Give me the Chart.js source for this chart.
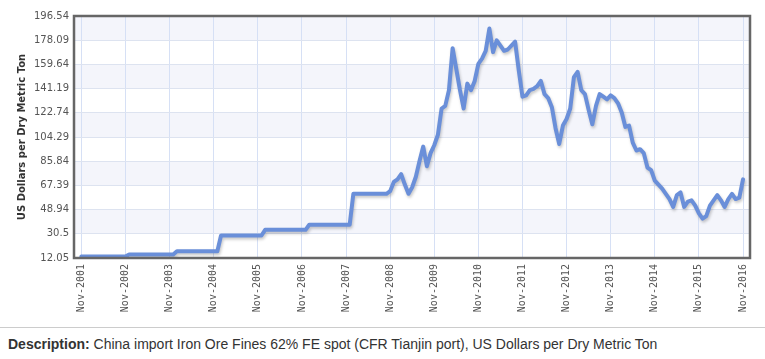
<!DOCTYPE html>
<html>
<head>
<meta charset="utf-8">
<script src="https://cdn.jsdelivr.net/npm/chart.js@4"></script>
<style>
    body { margin: 0; background: #fff; }
    #wrap { position: relative; width: 765px; height: 320px; }
    #desc {
        position: absolute; top: 327px; left: 0; width: 757px;
        border-top: 1px solid #ccc; padding: 8px 0 0 8px;
        font: 14px "Liberation Sans", Arial, sans-serif; color: #333;
    }
</style>
</head>
<body>
<div id="wrap"><canvas id="oreChart" width="765" height="320"></canvas></div>
<div id="desc"><b>Description:</b> China import Iron Ore Fines 62% FE spot (CFR Tianjin port), US Dollars per Dry Metric Ton</div>
<script>
// Tick labels, one per November (month index 0, 12, 24, ...)
const xTickLabels = [
    "Nov-2001", "Nov-2002", "Nov-2003", "Nov-2004", "Nov-2005", "Nov-2006",
    "Nov-2007", "Nov-2008", "Nov-2009", "Nov-2010", "Nov-2011", "Nov-2012",
    "Nov-2013", "Nov-2014", "Nov-2015", "Nov-2016",
];
const yTicks = [12.05, 30.5, 48.94, 67.39, 85.84, 104.29, 122.74, 141.19, 159.64, 178.09, 196.54];

// Monthly price, Nov-2001 .. Nov-2016 (US$ per dry metric ton)
const prices = [
    13.2, 13.2, 13.2, 13.2, 13.2, 13.2, 13.2, 13.2, 13.2, 13.2, 13.2, 13.2, 13.2,
    14.7, 14.7, 14.7, 14.7, 14.7, 14.7, 14.7, 14.7, 14.7, 14.7, 14.7, 14.7, 14.7,
    17.2, 17.2, 17.2, 17.2, 17.2, 17.2, 17.2, 17.2, 17.2, 17.2, 17.2, 17.2,
    29.2, 29.2, 29.2, 29.2, 29.2, 29.2, 29.2, 29.2, 29.2, 29.2, 29.2, 29.2,
    33.5, 33.5, 33.5, 33.5, 33.5, 33.5, 33.5, 33.5, 33.5, 33.5, 33.5, 33.5,
    37.4, 37.4, 37.4, 37.4, 37.4, 37.4, 37.4, 37.4, 37.4, 37.4, 37.4, 37.4,
    61, 61, 61, 61, 61, 61, 61, 61, 61, 61,
    63, 70, 72, 76, 68, 61,
    66, 74, 86, 97, 82, 92, 98, 106, 126, 128,
    140, 172, 156, 140, 126, 145, 140, 147, 160, 164,
    170, 187, 169, 178, 174, 170, 171, 174, 177, 155,
    135, 136, 140, 141, 143, 147, 137, 134, 127, 111,
    99, 113, 118, 126, 150, 154, 140, 137, 125, 114,
    128, 137, 135, 133, 136, 134, 130, 123, 112, 113,
    100, 94, 95, 92, 81, 79, 71, 68, 65, 61,
    57, 51, 60, 62, 51, 55, 56, 52, 46, 42,
    44, 52, 56, 60, 56, 51, 57, 61, 57, 58, 72,
];

// Alternating horizontal bands behind the grid
const bandPlugin = {
    id: "bands",
    beforeDraw(chart) {
        const { ctx, chartArea, scales } = chart;
        ctx.save();
        ctx.fillStyle = "#f4f5fb";
        for (let i = 1; i < yTicks.length - 1; i += 2) {
            const yTop = scales.y.getPixelForValue(yTicks[i + 1]);
            const yBot = scales.y.getPixelForValue(yTicks[i]);
            ctx.fillRect(chartArea.left, yTop, chartArea.right - chartArea.left, yBot - yTop);
        }
        ctx.restore();
    },
};

// Soft drop shadow under the line
const shadowPlugin = {
    id: "shadow",
    beforeDatasetsDraw(chart) {
        const ctx = chart.ctx;
        ctx.save();
        ctx.shadowColor = "rgba(0,0,0,0.22)";
        ctx.shadowOffsetX = 1;
        ctx.shadowOffsetY = 2;
        ctx.shadowBlur = 3;
    },
    afterDatasetsDraw(chart) {
        chart.ctx.restore();
    },
};

// Dark frame round the plot area
const framePlugin = {
    id: "frame",
    afterDraw(chart) {
        const { ctx, chartArea } = chart;
        ctx.save();
        ctx.strokeStyle = "#666";
        ctx.lineWidth = 2.5;
        ctx.strokeRect(chartArea.left, chartArea.top,
            chartArea.right - chartArea.left, chartArea.bottom - chartArea.top);
        ctx.restore();
    },
};

const ctx = document.getElementById("oreChart").getContext("2d");
new Chart(ctx, {
    type: "line",
    data: {
        datasets: [
            {
                data: prices.map((p, i) => ({ x: i, y: p })),
                borderColor: "#6a8fd9",
                borderWidth: 4,
                borderCapStyle: "round",
                borderJoinStyle: "round",
                pointRadius: 0,
                tension: 0,
                fill: false,
            },
        ],
    },
    options: {
        responsive: false,
        animation: false,
        layout: { padding: { top: 16, right: 15, left: 0, bottom: 0 } },
        plugins: { legend: { display: false }, tooltip: { enabled: false } },
        scales: {
            x: {
                type: "linear",
                min: -2,
                max: 181.9,
                afterBuildTicks: (s) => {
                    s.ticks = xTickLabels.map((_, i) => ({ value: i * 12 }));
                },
                afterFit: (s) => { s.height = 62; },
                grid: { color: "#d6e0f5", drawTicks: false },
                border: { display: false },
                ticks: {
                    autoSkip: false,
                    maxRotation: 90,
                    minRotation: 90,
                    padding: 6,
                    color: "#555",
                    font: { family: "DejaVu Sans Mono", size: 10 },
                    callback: (v, i) => xTickLabels[i],
                },
            },
            y: {
                min: 12.05,
                max: 196.54,
                afterBuildTicks: (s) => {
                    s.ticks = yTicks.map((v) => ({ value: v }));
                },
                afterFit: (s) => { s.width = 74; },
                grid: { color: "#dde3f0", drawTicks: false },
                border: { display: false },
                ticks: {
                    padding: 5,
                    color: "#555",
                    font: { family: "DejaVu Sans", size: 10 },
                    callback: (v) => String(v),
                },
                title: {
                    display: true,
                    text: "US Dollars per Dry Metric Ton",
                    color: "#333",
                    font: { family: "DejaVu Sans", size: 10, weight: "bold" },
                    padding: { top: 16, bottom: 0 },
                },
            },
        },
    },
    plugins: [bandPlugin, shadowPlugin, framePlugin],
});
</script>
</body>
</html>
